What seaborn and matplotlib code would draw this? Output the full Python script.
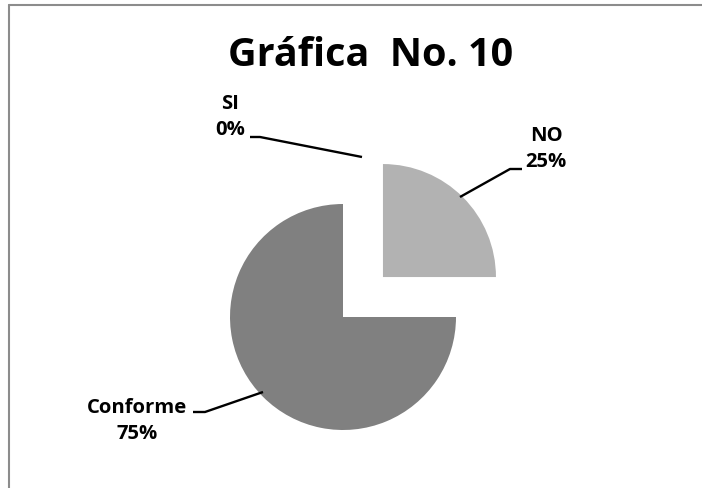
import matplotlib
matplotlib.use("Agg")
import matplotlib.pyplot as plt
import seaborn as sns
from matplotlib.lines import Line2D

sns.set_theme(style="white")
plt.rcParams['font.family'] = ['Open Sans', 'DejaVu Sans']

categories = ["SI", "NO", "Conforme"]
values = [0, 25, 75]
colors = ["#d9d9d9", "#b2b2b2", "#808080"]
explode = [0.0, 0.5, 0.0]
title = "Gráfica  No. 10"

W, H = 702, 489
CX, CY, R = 343, 318, 113

fig = plt.figure(figsize=(W / 100, H / 100), dpi=100)
ax = fig.add_axes([0, 0, 1, 1])

ax.pie(values, colors=colors, explode=explode, startangle=90, counterclock=False,
       radius=1, wedgeprops=dict(linewidth=0))

ax.set_xlim(-CX / R, (W - CX) / R)
ax.set_ylim(-(H - CY) / R, CY / R)
ax.set_aspect("equal", adjustable="datalim")
ax.axis("off")

def p(px, py):
    return ((px - CX) / R, (CY - py) / R)

total = sum(values)
label_pos = {"SI": (230, 117), "NO": (546, 149), "Conforme": (137, 421)}
leaders = {
    "SI": [(250, 138), (260, 138), (362, 158)],
    "NO": [(522, 170), (510, 170), (460, 198)],
    "Conforme": [(193, 413), (205, 413), (263, 393)],
}
for cat, v in zip(categories, values):
    pct = round(100 * v / total)
    x, y = p(*label_pos[cat])
    ax.text(x, y, f"{cat}\n{pct}%", ha="center", va="center", fontsize=14.6,
            fontweight="bold", color="black", linespacing=1.42)
    pts = [p(*q) for q in leaders[cat]]
    ax.plot([q[0] for q in pts], [q[1] for q in pts], color="black", lw=1.7,
            solid_capstyle="butt")

tx, ty = p(371, 56)
ax.text(tx, ty, title, ha="center", va="center", fontsize=28.5, fontweight="bold",
        color="black")

# chart frame (left and top edges)
fig.add_artist(Line2D([8.5 / W, 8.5 / W], [0, 1 - 5.5 / H], color="#8c8c8c", lw=1.5,
                      transform=fig.transFigure))
fig.add_artist(Line2D([8.5 / W, 1], [1 - 5.5 / H, 1 - 5.5 / H], color="#8c8c8c", lw=1.5,
                      transform=fig.transFigure))

fig.savefig("out.png", dpi=100, facecolor="white")
